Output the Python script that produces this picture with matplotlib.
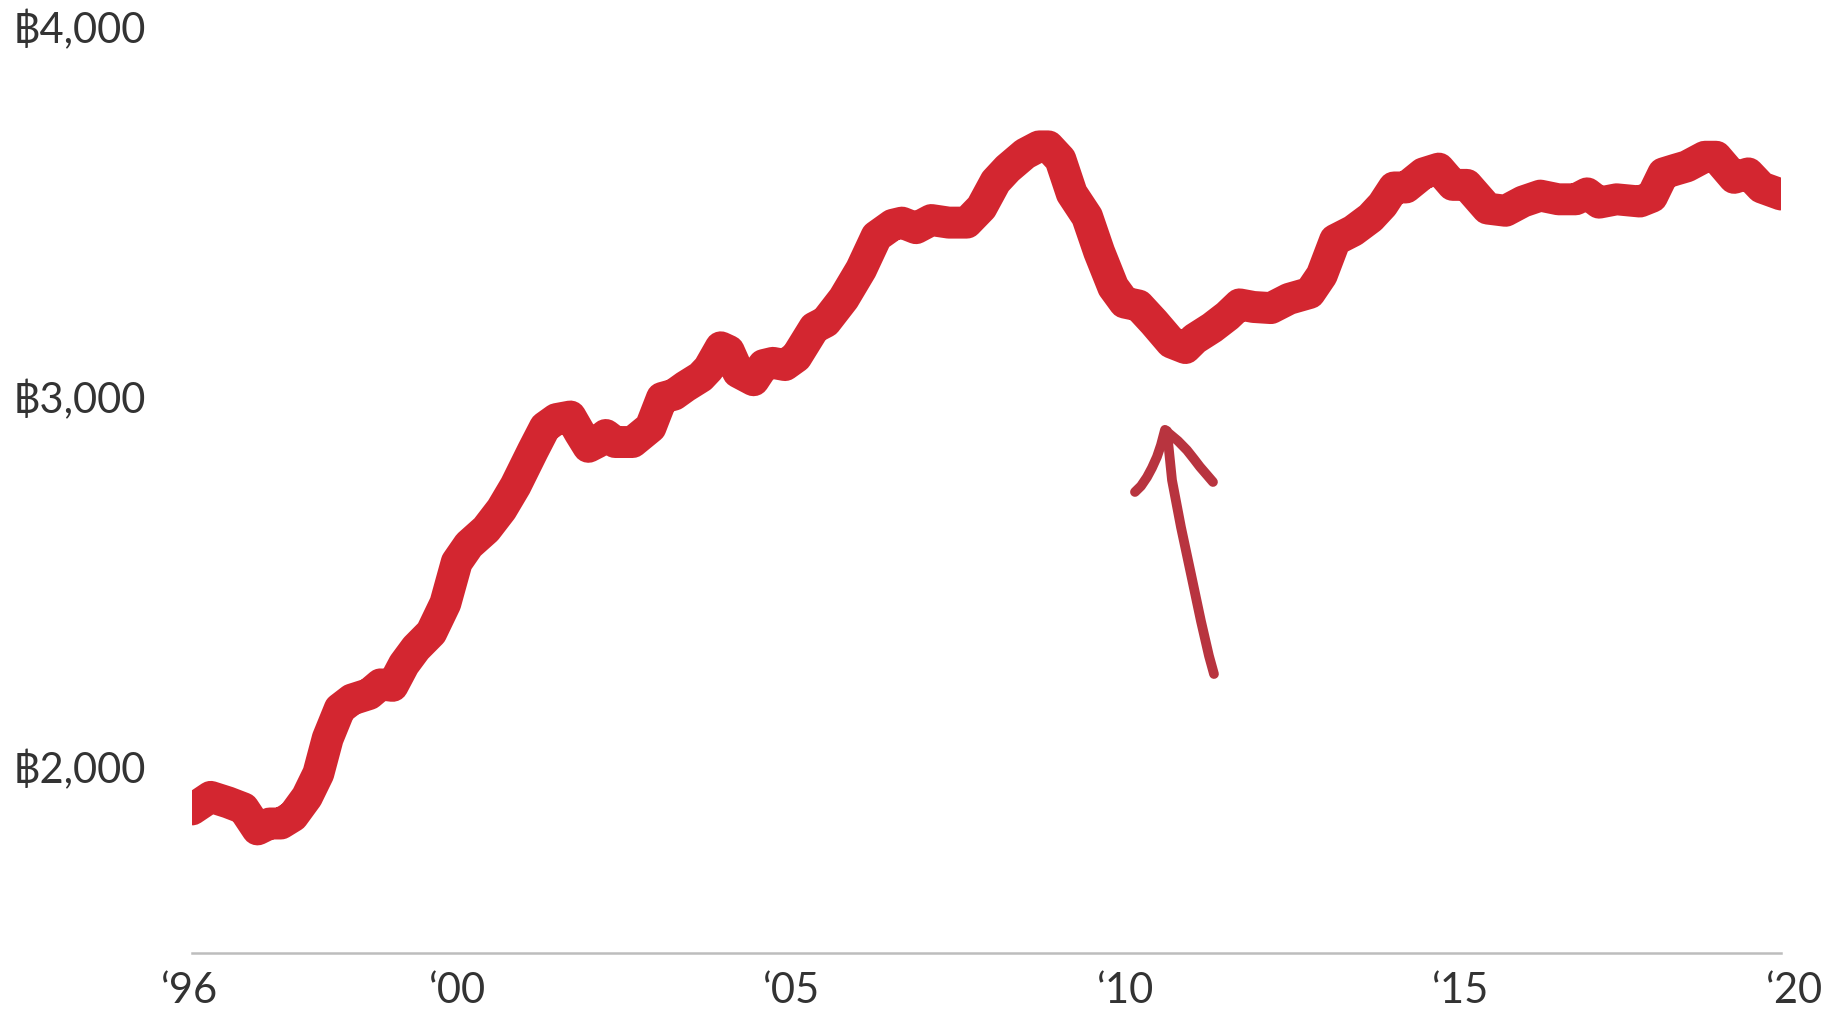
import matplotlib
matplotlib.use("Agg")
import matplotlib.pyplot as plt
import matplotlib.transforms as mtransforms

# ---- data ----
years = [1996.03, 1996.31, 1996.57, 1996.80, 1997.01, 1997.19, 1997.36, 1997.54, 1997.75, 1997.92,
         1998.06, 1998.24, 1998.42, 1998.68, 1998.85, 1999.03, 1999.20, 1999.38, 1999.61, 1999.82,
         1999.99, 2000.17, 2000.43, 2000.66, 2000.87, 2001.13, 2001.31, 2001.48, 2001.69, 2001.83,
         2001.96, 2002.10, 2002.22, 2002.36, 2002.62, 2002.89, 2003.06, 2003.24, 2003.41, 2003.64,
         2003.76, 2003.94, 2004.06, 2004.20, 2004.43, 2004.58, 2004.72, 2004.90, 2005.07, 2005.34,
         2005.51, 2005.78, 2006.04, 2006.27, 2006.51, 2006.65, 2006.86, 2007.09, 2007.35, 2007.62,
         2007.84, 2008.05, 2008.23, 2008.49, 2008.70, 2008.84, 2009.02, 2009.19, 2009.42, 2009.60,
         2009.81, 2009.98, 2010.19, 2010.42, 2010.68, 2010.89, 2011.03, 2011.29, 2011.52, 2011.70,
         2011.91, 2012.17, 2012.44, 2012.75, 2012.93, 2013.13, 2013.40, 2013.66, 2013.84, 2014.01,
         2014.19, 2014.45, 2014.68, 2014.89, 2015.10, 2015.41, 2015.68, 2015.94, 2016.20, 2016.47,
         2016.73, 2016.90, 2017.08, 2017.34, 2017.69, 2017.87, 2018.04, 2018.22, 2018.39, 2018.66,
         2018.83, 2019.10, 2019.31, 2019.51, 2019.80]
values = [1888, 1922, 1907, 1891, 1834, 1850, 1850, 1870, 1922, 1985,
          2080, 2160, 2185, 2200, 2226, 2222, 2280, 2324, 2366, 2445,
          2556, 2603, 2645, 2699, 2763, 2858, 2921, 2943, 2950, 2906,
          2868, 2881, 2900, 2881, 2881, 2921, 3000, 3009, 3031, 3057,
          3080, 3137, 3127, 3070, 3048, 3089, 3095, 3089, 3111, 3190,
          3206, 3269, 3348, 3437, 3468, 3474, 3459, 3481, 3474, 3474,
          3515, 3585, 3620, 3660, 3680, 3680, 3645, 3553, 3490, 3395,
          3300, 3258, 3250, 3205, 3150, 3135, 3160, 3190, 3222, 3253,
          3246, 3243, 3268, 3284, 3332, 3427, 3452, 3487, 3522, 3569,
          3569, 3607, 3620, 3576, 3576, 3512, 3506, 3531, 3547, 3537,
          3537, 3553, 3528, 3537, 3531, 3544, 3607, 3617, 3626, 3652,
          3652, 3595, 3607, 3569, 3550]

y_ticks = [2000, 3000, 4000]
y_labels = ["฿2,000", "฿3,000", "฿4,000"]
x_ticks = [1996, 2000, 2005, 2010, 2015, 2020]
x_labels = ["‘96", "‘00", "‘05", "‘10", "‘15", "‘20"]

# hand-drawn annotation arrow (data coordinates)
arrow_shaft_x = [2010.615, 2010.690, 2010.824, 2010.974, 2011.123, 2011.243, 2011.318]
arrow_shaft_y = [2911, 2778, 2651, 2524, 2397, 2303, 2254]
arrow_left_x = [2010.585, 2010.525, 2010.465, 2010.390, 2010.316, 2010.226, 2010.136]
arrow_left_y = [2914, 2873, 2841, 2811, 2786, 2762, 2746]
arrow_right_x = [2010.640, 2010.779, 2010.914, 2011.019, 2011.108, 2011.213, 2011.303]
arrow_right_y = [2905, 2884, 2859, 2835, 2814, 2792, 2773]

# ---- style ----
LINE_RED = "#D32630"
ARROW_RED = "#B8343F"
TEXT = "#333333"
FONT = ["Lato", "DejaVu Sans"]

W, H = 1837, 1009
fig = plt.figure(figsize=(W / 100, H / 100), dpi=100)
fig.patch.set_facecolor("white")
ax = fig.add_axes([192 / W, 1 - 953 / H, (1781 - 192) / W, (953 - 28) / H])
ax.set_xlim(1996.03, 2019.80)
ax.set_ylim(1500, 4000)

ax.plot(years, values, color=LINE_RED, lw=23, solid_capstyle="round",
        solid_joinstyle="round", zorder=3)

for xs, ys in [(arrow_shaft_x, arrow_shaft_y), (arrow_left_x, arrow_left_y),
               (arrow_right_x, arrow_right_y)]:
    ax.plot(xs, ys, color=ARROW_RED, lw=7, solid_capstyle="round",
            solid_joinstyle="round", zorder=4, clip_on=False)

for s in ["top", "right", "left"]:
    ax.spines[s].set_visible(False)
ax.spines["bottom"].set_color("#BDBDBD")
ax.spines["bottom"].set_linewidth(1.8)
ax.set_xticks([])
ax.set_yticks([])

# y labels: left aligned near figure edge
ytr = mtransforms.blended_transform_factory(fig.transFigure, ax.transData)
for v, lab in zip(y_ticks, y_labels):
    ax.text(13 / W, v - 40, lab, transform=ytr, ha="left", va="baseline",
            fontsize=30, color=TEXT, family=FONT, clip_on=False)

# x labels
xtr = mtransforms.blended_transform_factory(ax.transData, fig.transFigure)
for v, lab in zip(x_ticks, x_labels):
    ax.text(v, 1 - 1003 / H, lab, transform=xtr, ha="center", va="baseline",
            fontsize=30, color=TEXT, family=FONT, clip_on=False)

fig.savefig("out.png", dpi=100, facecolor="white")
